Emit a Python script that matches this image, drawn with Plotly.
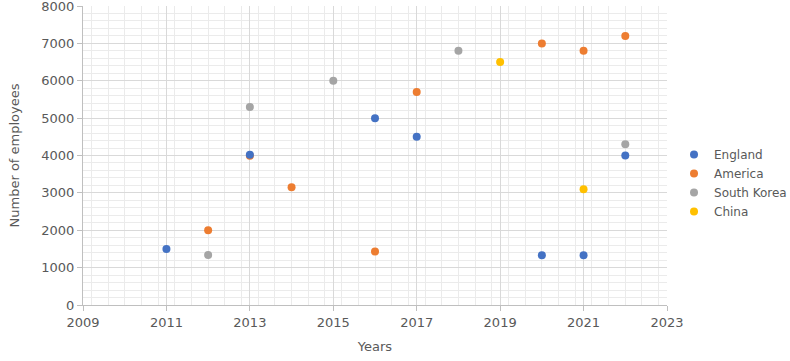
import plotly.graph_objects as go

england_years = [2011, 2013, 2016, 2017, 2020, 2021, 2022]
england_values = [1500, 4020, 5000, 4500, 1330, 1330, 4000]

america_years = [2012, 2013, 2014, 2016, 2017, 2020, 2021, 2022]
america_values = [2000, 3990, 3150, 1430, 5700, 7000, 6800, 7200]

korea_years = [2012, 2013, 2015, 2018, 2022]
korea_values = [1340, 5300, 6000, 6800, 4300]

china_years = [2019, 2021]
china_values = [6500, 3100]

series = [
    ("America", america_years, america_values, "#ED7D31"),
    ("South Korea", korea_years, korea_values, "#A5A5A5"),
    ("China", china_years, china_values, "#FFC000"),
    ("England", england_years, england_values, "#4472C4"),
]
legend_rank = {"England": 1, "America": 2, "South Korea": 3, "China": 4}

fig = go.Figure()
for name, xs, ys, color in series:
    fig.add_trace(go.Scatter(
        x=xs, y=ys, mode="markers", name=name,
        marker=dict(color=color, size=8, line=dict(width=0)),
        legendrank=legend_rank[name],
    ))

font_color = "#595959"
fig.update_layout(
    width=790, height=361,
    margin=dict(l=83, r=123, t=6, b=56, autoexpand=False),
    paper_bgcolor="white", plot_bgcolor="white",
    font=dict(family="DejaVu Sans", size=13, color=font_color),
    showlegend=True,
    legend=dict(x=1.012, xanchor="left", y=0.408, yanchor="middle",
                itemwidth=30, tracegroupgap=0, bgcolor="rgba(0,0,0,0)",
                font=dict(size=12, color=font_color)),
    xaxis=dict(
        range=[2009, 2023], dtick=2, tick0=2009,
        showgrid=True, gridcolor="#D9D9D9", gridwidth=1,
        minor=dict(dtick=0.4, showgrid=True, gridcolor="#EBEBEB", ticks=""),
        showline=True, linecolor="#BFBFBF", linewidth=1,
        ticks="outside", ticklen=5, tickcolor="#BFBFBF",
        zeroline=False, ticklabeloverflow="allow",
        title=dict(text="Years", standoff=13, font=dict(size=13, color=font_color)),
    ),
    yaxis=dict(
        range=[0, 8000], dtick=1000,
        showgrid=True, gridcolor="#D9D9D9", gridwidth=1,
        minor=dict(dtick=200, showgrid=True, gridcolor="#EBEBEB", ticks=""),
        showline=True, linecolor="#BFBFBF", linewidth=1,
        ticks="outside", ticklen=5, tickcolor="#BFBFBF",
        zeroline=False, ticklabeloverflow="allow",
        title=dict(text="Number of employees", standoff=18, font=dict(size=13, color=font_color)),
    ),
)

fig.write_html("out.html", config={"displayModeBar": False},
               post_script="document.body.style.margin='0';")
